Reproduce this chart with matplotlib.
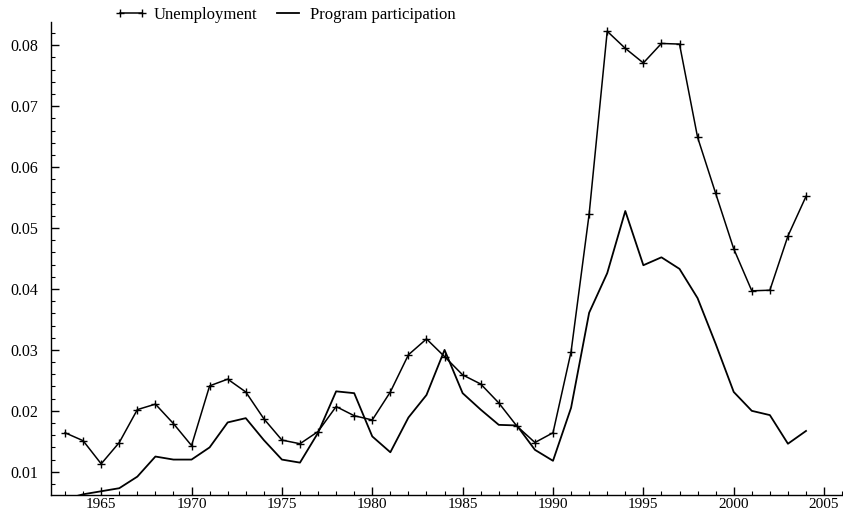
import matplotlib
matplotlib.use("Agg")
import matplotlib.pyplot as plt
from matplotlib.ticker import MultipleLocator, FormatStrFormatter

years = list(range(1963, 2005))
unemployment = [0.0164, 0.0151, 0.0113, 0.0148, 0.0202, 0.0211, 0.0179, 0.0143,
                0.0241, 0.0252, 0.0231, 0.0187, 0.0152, 0.0146, 0.0166, 0.0207,
                0.0192, 0.0185, 0.0231, 0.0292, 0.0318, 0.0289, 0.0259, 0.0244,
                0.0213, 0.0175, 0.0148, 0.0164, 0.0297, 0.0523, 0.0823, 0.0795,
                0.0771, 0.0803, 0.0802, 0.0649, 0.0557, 0.0466, 0.0397, 0.0398,
                0.0487, 0.0552]
participation = [0.0055, 0.0063, 0.0068, 0.0073, 0.0092, 0.0125, 0.0120, 0.0120,
                 0.0140, 0.0181, 0.0188, 0.0152, 0.0120, 0.0115, 0.0164, 0.0232,
                 0.0229, 0.0158, 0.0132, 0.0189, 0.0226, 0.0300, 0.0229, 0.0202,
                 0.0177, 0.0176, 0.0136, 0.0118, 0.0205, 0.0361, 0.0426, 0.0528,
                 0.0439, 0.0452, 0.0433, 0.0385, 0.0310, 0.0231, 0.0200, 0.0193,
                 0.0146, 0.0167]
series_labels = ["Unemployment", "Program participation"]

plt.rcParams['font.family'] = ['Liberation Serif', 'DejaVu Serif']

fig = plt.figure(figsize=(8.43, 5.15), dpi=100)
ax = fig.add_axes([0.060, 0.039, 0.939, 0.918])

ax.plot(years, unemployment, color='black', lw=1.1, marker='+', ms=6, mew=1.0,
        label=series_labels[0])
ax.plot(years, participation, color='black', lw=1.3, label=series_labels[1])

ax.set_xlim(1962.2, 2006.0)
ax.set_ylim(0.0062, 0.0838)

ax.xaxis.set_major_locator(MultipleLocator(5))
ax.xaxis.set_minor_locator(MultipleLocator(1))
ax.yaxis.set_major_locator(MultipleLocator(0.01))
ax.yaxis.set_minor_locator(MultipleLocator(0.002))
ax.yaxis.set_major_formatter(FormatStrFormatter('%.2f'))

for s in ['top', 'right']:
    ax.spines[s].set_visible(False)
for s in ['left', 'bottom']:
    ax.spines[s].set_linewidth(1.0)

ax.tick_params(axis='both', which='major', direction='in', length=6, width=1.0)
ax.tick_params(axis='both', which='minor', direction='in', length=3, width=0.8)
ax.tick_params(axis='y', which='major', labelsize=11.5, pad=9)
ax.tick_params(axis='x', which='major', labelsize=11, pad=2.5)

fig.legend(loc='center left', bbox_to_anchor=(115/843, 1 - 15/515), ncol=2,
           frameon=False, fontsize=12, handlelength=1.9, handletextpad=0.4,
           columnspacing=0.9, borderpad=0, borderaxespad=0, numpoints=2)

fig.savefig('out.png', dpi=100)
